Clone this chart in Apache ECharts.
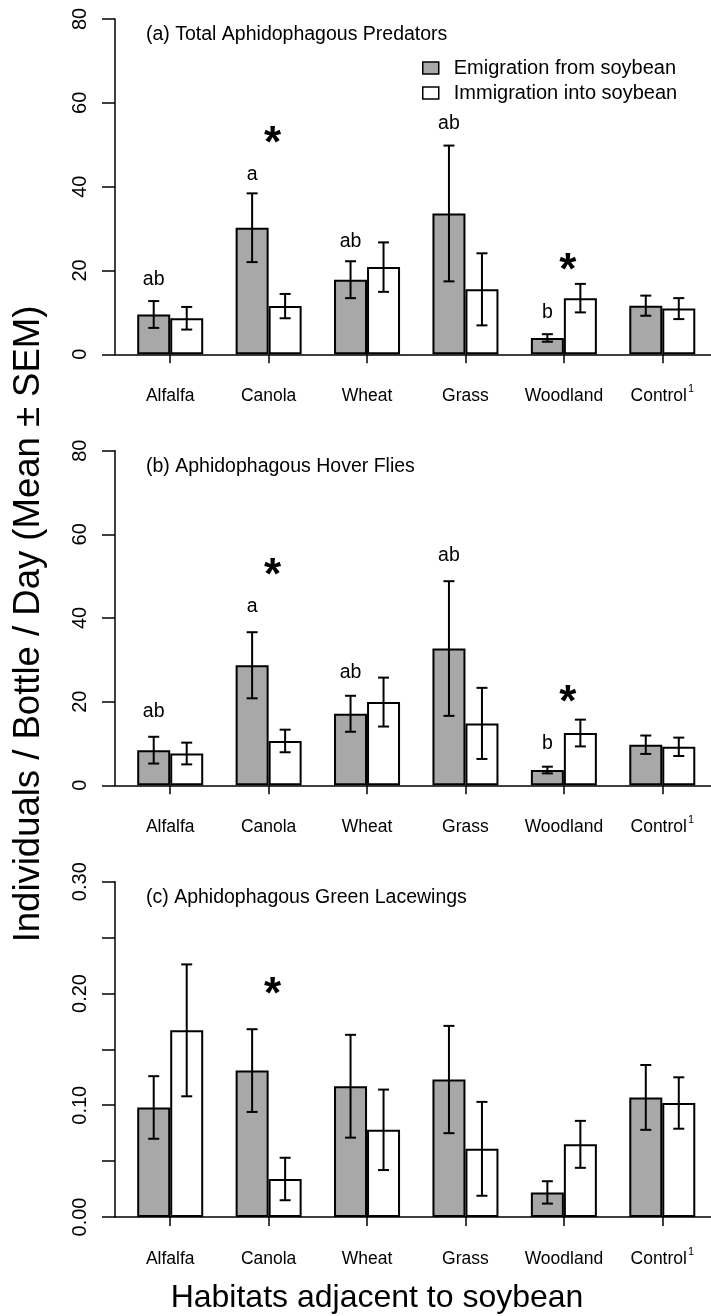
<!DOCTYPE html>
<html><head><meta charset="utf-8">
<script src="https://cdn.jsdelivr.net/npm/echarts@6/dist/echarts.min.js"></script>
<style>html,body{margin:0;padding:0;background:#fff}#c{width:711px;height:1316px}</style>
</head><body><div id="c"></div>
<script>
// ---------- data ----------
const categories = ['Alfalfa', 'Canola', 'Wheat', 'Grass', 'Woodland', 'Control'];
const categorySup = ['', '', '', '', '', '1'];
const seriesNames = ['Emigration from soybean', 'Immigration into soybean'];
const panelTitles = ['(a) Total Aphidophagous Predators', '(b) Aphidophagous Hover Flies', '(c) Aphidophagous Green Lacewings'];

// (a) Total aphidophagous predators
const emigA = [9.5, 30.2, 17.8, 33.6, 3.9, 11.6];
const emigASem = [3.2, 8.2, 4.4, 16.2, 0.9, 2.4];
const immA = [8.6, 11.5, 20.8, 15.5, 13.4, 10.9];
const immASem = [2.7, 2.9, 5.9, 8.6, 3.4, 2.5];
// (b) Hover flies
const emigB = [8.4, 28.7, 17.1, 32.7, 3.65, 9.7];
const emigBSem = [3.2, 7.9, 4.3, 16.1, 0.8, 2.2];
const immB = [7.6, 10.6, 19.9, 14.8, 12.5, 9.2];
const immBSem = [2.6, 2.7, 5.85, 8.5, 3.2, 2.2];
// (c) Green lacewings
const emigC = [0.098, 0.131, 0.117, 0.123, 0.022, 0.107];
const emigCSem = [0.028, 0.037, 0.046, 0.048, 0.010, 0.029];
const immC = [0.167, 0.034, 0.078, 0.061, 0.065, 0.102];
const immCSem = [0.059, 0.019, 0.036, 0.042, 0.021, 0.023];

// significance letters (above emigration bars) and asterisks
const letters = ['ab', 'a', 'ab', 'ab', 'b', ''];
const letterPosA = [17.7, 42.8, 26.9, 55, 10, null];
const letterPosB = [17.7, 42.8, 26.9, 55, 10, null];
const starPosA = [null, 52.8, null, null, 22.5, null];
const starPosB = [null, 52.6, null, null, 22.4, null];
const starPosC = [null, 0.209, null, null, null, null];

// axis ticks
const yTicksAB = [0, 20, 40, 60, 80];
const yTicksC = [0, 0.10, 0.20, 0.30];
const yStepAB = 20, yStepC = 0.05;
const xTicks = [0, 1, 2, 3, 4, 5];
const xRange = [-0.561, 5.495];

// ---------- styles ----------
const FONT = '"Liberation Sans", Arial, Helvetica, sans-serif';
const GRAY = '#a8a8a8';
const BAR_W = 33;
const CAP = 5.5;
const grids = [
  {left: 115, right: 0, top: 19, height: 335.3},
  {left: 115, right: 0, top: 450.7, height: 334.6},
  {left: 115, right: 0, top: 881.7, height: 335.3}
];

const panels = [
  {emig: emigA, emigSem: emigASem, imm: immA, immSem: immASem, letterPos: letterPosA, starPos: starPosA, ticks: yTicksAB, step: yStepAB, dec: 0},
  {emig: emigB, emigSem: emigBSem, imm: immB, immSem: immBSem, letterPos: letterPosB, starPos: starPosB, ticks: yTicksAB, step: yStepAB, dec: 0},
  {emig: emigC, emigSem: emigCSem, imm: immC, immSem: immCSem, letterPos: null, starPos: starPosC, ticks: yTicksC, step: yStepC, dec: 2}
];

const xAxes = [], yAxes = [], series = [];

function errSeries(k, means, sems, dx) {
  return {
    type: 'custom', xAxisIndex: k, yAxisIndex: k, z: 5, silent: true,
    data: means.map((m, i) => [i, m, sems[i]]),
    encode: {x: 0, y: 1},
    renderItem(params, api) {
      const i = api.value(0), m = api.value(1), s = api.value(2);
      const top = api.coord([i, m + s]), bot = api.coord([i, m - s]);
      const x = top[0] + dx;
      const st = {stroke: '#000', lineWidth: 2};
      return {type: 'group', children: [
        {type: 'line', shape: {x1: x, y1: top[1], x2: x, y2: bot[1]}, style: st},
        {type: 'line', shape: {x1: x - CAP, y1: top[1], x2: x + CAP, y2: top[1]}, style: st},
        {type: 'line', shape: {x1: x - CAP, y1: bot[1], x2: x + CAP, y2: bot[1]}, style: st}
      ]};
    }
  };
}

function textSeries(k, positions, texts, dx, dy, fontSize, fontWeight) {
  const data = positions.map((p, i) => [i, p]).filter(d => d[1] != null);
  return {
    type: 'custom', xAxisIndex: k, yAxisIndex: k, z: 6, silent: true,
    data: data, encode: {x: 0, y: 1},
    renderItem(params, api) {
      const i = api.value(0);
      const p = api.coord([i, api.value(1)]);
      return {type: 'text', x: p[0] + dx, y: p[1] + dy, style: {
        text: texts[i], fontSize: fontSize, fontFamily: FONT, fontWeight: fontWeight || 'normal',
        fill: '#000', align: 'center', verticalAlign: 'middle'
      }};
    }
  };
}

panels.forEach((P, k) => {
  xAxes.push({
    gridIndex: k, type: 'value', min: xRange[0], max: xRange[1],
    axisLine: {show: true, onZero: false, lineStyle: {color: '#000', width: 1.5}},
    axisTick: {show: true, customValues: xTicks, length: 9, inside: false, lineStyle: {color: '#000', width: 1.5}},
    axisLabel: {
      show: true, customValues: xTicks, margin: 29,
      formatter: v => '{n|' + categories[Math.round(v)] + '}' + (categorySup[Math.round(v)] ? '{s|' + categorySup[Math.round(v)] + '}' : ''),
      rich: {
        n: {fontSize: 17.5, fontFamily: FONT, color: '#000', lineHeight: 26},
        s: {fontSize: 11, fontFamily: FONT, color: '#000', lineHeight: 11, verticalAlign: 'top', padding: [0, 0, 0, 1]}
      }
    },
    splitLine: {show: false}
  });
  yAxes.push({
    gridIndex: k, type: 'value', min: 0, max: P.ticks[P.ticks.length - 1], interval: P.step,
    axisLine: {show: true, onZero: false, lineStyle: {color: '#000', width: 1.5}},
    axisTick: {show: true, length: 13, inside: false, lineStyle: {color: '#000', width: 1.5}},
    axisLabel: {
      show: true, rotate: 90, margin: 25, customValues: P.ticks,
      formatter: v => Number(v).toFixed(P.dec),
      fontSize: 20, fontFamily: FONT, color: '#000'
    },
    splitLine: {show: false}
  });
  series.push({
    name: seriesNames[0], type: 'bar', xAxisIndex: k, yAxisIndex: k,
    barWidth: BAR_W, barGap: '0%',
    data: P.emig.map((v, i) => [i, v]),
    itemStyle: {color: GRAY, borderColor: '#000', borderWidth: 2},
    silent: true
  });
  series.push({
    name: seriesNames[1], type: 'bar', xAxisIndex: k, yAxisIndex: k,
    barWidth: BAR_W, barGap: '0%',
    data: P.imm.map((v, i) => [i, v]),
    itemStyle: {color: '#fff', borderColor: '#000', borderWidth: 2},
    silent: true
  });
  series.push(errSeries(k, P.emig, P.emigSem, -BAR_W / 2));
  series.push(errSeries(k, P.imm, P.immSem, BAR_W / 2));
  if (P.letterPos) series.push(textSeries(k, P.letterPos, letters, -BAR_W / 2, 0, 19.5));
  series.push(textSeries(k, P.starPos, categories.map(() => '*'), 4, 12, 44, 'bold'));
});

const graphics = [];
panelTitles.forEach((t, k) => {
  graphics.push({type: 'text', left: 146, top: grids[k].top + 6, style: {
    text: t, fontSize: 19.5, fontFamily: FONT, fill: '#000'
  }});
});
graphics.push({type: 'text', x: 29, y: 624, rotation: Math.PI / 2, style: {
  text: 'Individuals / Bottle / Day (Mean \u00b1 SEM)', fontSize: 36.5, fontFamily: FONT, fill: '#000',
  align: 'center', verticalAlign: 'middle', textAlign: 'center', textVerticalAlign: 'middle'
}});
graphics.push({type: 'text', x: 377, y: 1298, style: {
  text: 'Habitats adjacent to soybean', fontSize: 32, fontFamily: FONT, fill: '#000',
  align: 'center', verticalAlign: 'middle', textAlign: 'center', textVerticalAlign: 'middle'
}});

const chart = echarts.init(document.getElementById('c'), null, {renderer: 'canvas'});
chart.setOption({
  animation: false,
  backgroundColor: '#fff',
  grid: grids,
  xAxis: xAxes,
  yAxis: yAxes,
  legend: {
    data: seriesNames, orient: 'vertical', left: 417, top: 53,
    icon: 'rect', itemWidth: 16, itemHeight: 12, itemGap: 5,
    itemStyle: {borderColor: '#000', borderWidth: 1.5},
    textStyle: {fontSize: 20, fontFamily: FONT, color: '#000', lineHeight: 20, padding: [0, 0, 0, 10]},
    selectedMode: false
  },
  series: series,
  graphic: graphics
});
</script>
</body></html>
